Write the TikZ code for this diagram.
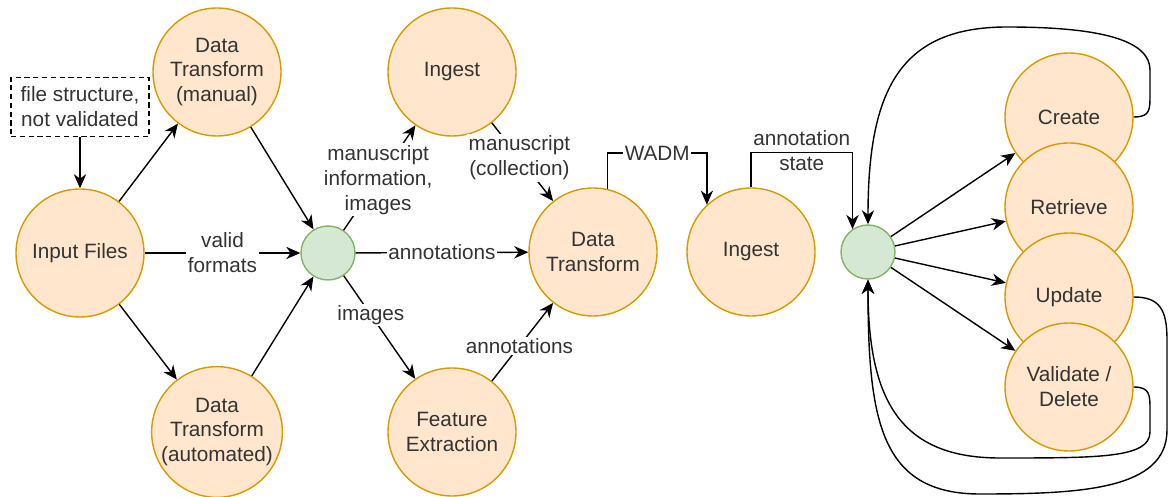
\documentclass[tikz,border=0pt]{standalone}
\usepackage{fontspec}
\setmainfont{Liberation Sans}
\usetikzlibrary{positioning}
\usetikzlibrary{arrows.meta}
\definecolor{procfill}{HTML}{FFE6CC}
\definecolor{procline}{HTML}{D79B00}
\definecolor{hubfill}{HTML}{D5E8D4}
\definecolor{hubline}{HTML}{82B366}
\definecolor{inkgray}{HTML}{333333}

\begin{document}
\begin{tikzpicture}[proc/.style={circle, draw=procline, fill=procfill, line width=0.8pt,
            minimum size=2.56cm, inner sep=0pt, align=center, text=inkgray},
        hub/.style={circle, draw=hubline, fill=hubfill, line width=0.8pt,
            minimum size=1.08cm, inner sep=0pt},
        note/.style={draw, dash pattern=on 3pt off 2pt, line width=0.8pt,
            minimum width=2.76cm, minimum height=1.18cm, align=center, inner sep=1pt, text=inkgray},
        flow/.style={line width=0.8pt, -{Stealth[length=8pt,width=7pt,inset=2.5pt]}},
        lbl/.style={fill=white, align=center, inner sep=1pt, text=inkgray},
        font=\fontsize{11.8}{14.2}\selectfont]

    \useasboundingbox (0,0) rectangle (23.44,-9.94);

    % input side
    \node[note] (fstruct) at (1.60,-2.14) {file structure,\\not validated};
    \node[proc] (infiles) at (1.60,-5.06) {Input Files};
    \node[proc] (dtman) at (4.34,-1.44) {Data\\Transform\\(manual)};
    \node[proc] (dtauto) at (4.34,-8.64) {Data\\Transform\\(automated)};
    \node[hub] (hub1) at (6.56,-5.06) {};

    % middle
    \node[proc] (ingest1) at (9.04,-1.44) {Ingest};
    \node[proc] (featx) at (9.04,-8.64) {Feature\\Extraction};
    \node[proc] (dtmid) at (11.86,-5.04) {Data\\Transform};
    \node[proc] (ingest2) at (15.02,-5.04) {Ingest};
    \node[hub] (hub2) at (17.36,-5.04) {};

    % operations, each one on top of the one above
    \node[proc] (create) at (21.38,-2.34) {Create};
    \node[proc] (retrieve) at (21.38,-4.14) {Retrieve};
    \node[proc] (update) at (21.38,-5.94) {Update};
    \node[proc] (valdel) at (21.38,-7.74) {Validate /\\Delete};

    \draw[flow] (fstruct) -- (infiles);
    \draw[flow] (infiles) -- (dtman);
    \draw[flow] (infiles) -- (dtauto);
    \draw[flow] (infiles) -- node[lbl] {valid\\formats} (hub1);
    \draw[flow] (dtman) -- (hub1);
    \draw[flow] (dtauto) -- (hub1);

    \draw[flow] (hub1) -- node[lbl, pos=0.48] {manuscript\\information,\\images} (ingest1);
    \draw[flow] (hub1) -- node[lbl] {annotations} (dtmid);
    \draw[flow] (hub1) -- node[lbl, pos=0.38] {images} (featx);
    \draw[flow] (featx) -- node[lbl, pos=0.45] {annotations} (dtmid);
    \draw[flow] (ingest1) -- node[lbl, pos=0.45] {manuscript\\(collection)} (dtmid);

    \draw[flow] (dtmid.77) -- ++(0,0.72) -| node[lbl, pos=0.25] {WADM} (ingest2.133);
    \draw[flow] (ingest2.north) -- ++(0,0.7) -| node[pos=0.25, align=center, text=inkgray, yshift=1pt] {annotation\\state} (hub2.124);

    \draw[flow] (hub2) -- (create);
    \draw[flow] (hub2) -- (retrieve);
    \draw[flow] (hub2) -- (update);
    \draw[flow] (hub2) -- (valdel.146);

    % loops back to the hub
    \draw[flow] (create.east) .. controls (23,-2.34) and (23,-2.2) .. (23,-1.9) -- (23,-1.4)
        .. controls (23,-0.8) and (22,-0.54) .. (20.14,-0.54)
        .. controls (18,-0.54) and (17.36,-1.8) .. (hub2.north);
    \draw[flow] (update.east) .. controls (23.2,-5.94) and (23.34,-6.2) .. (23.34,-6.8) -- (23.34,-8.6)
        .. controls (23.34,-9.8) and (21.6,-9.88) .. (19.6,-9.88)
        .. controls (17.6,-9.88) and (17.36,-8.4) .. (hub2.south);
    \draw[flow] (valdel.east) .. controls (23,-7.74) and (23,-7.9) .. (23,-8.2) -- (23,-8.64)
        .. controls (23,-9.16) and (22,-9.16) .. (20,-9.16)
        .. controls (18,-9.16) and (17.36,-8) .. (hub2.south);
\end{tikzpicture}
\end{document}
